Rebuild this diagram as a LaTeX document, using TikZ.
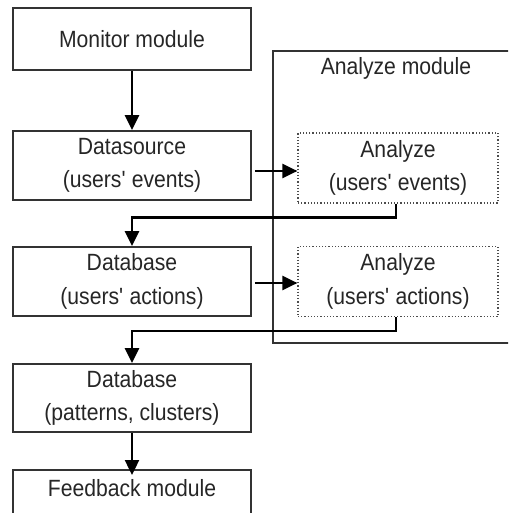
\documentclass[tikz,border=0pt]{standalone}
\usepackage{fontspec}
\setmainfont{Liberation Sans}[FakeStretch=0.9]
\usetikzlibrary{arrows.meta,calc}
\newcommand{\apos}{\textquotesingle}

\begin{document}
\begin{tikzpicture}[x=1pt,y=-1pt,
  every node/.style={font=\fontsize{23.5}{33.5}\selectfont, text=black!85, align=center, inner sep=0pt},
  stepbox/.style={draw=black!80, line width=1.8pt, minimum width=238pt},
  subbox/.style={draw=black!70, line width=1.2pt, dotted, minimum width=200pt, minimum height=70pt},
  flow/.style={draw=black, line width=2.4pt, -{Triangle[length=15pt,width=14pt]}},
]
\useasboundingbox (0,0) rectangle (508,513);
\clip (0,0) rectangle (508,513);

% outer module frame (runs past the right edge)
\draw[black!80, line width=1.5pt] (273,51) rectangle (530,343);
\node (amlabel) at (396,68) {Analyze module};

% left column
\node[stepbox, minimum height=62pt] (mon) at (132,39) {Monitor module};
\node[stepbox, minimum height=69pt] (ds) at (132,165.5) {Datasource\\(users\apos{} events)};
\node[stepbox, minimum height=69pt] (db) at (132,281.5) {Database\\(users\apos{} actions)};
\node[stepbox, minimum height=68pt] (dbp) at (132,398) {Database\\(patterns, clusters)};
\node[stepbox, minimum height=70pt, anchor=north] (fb) at (132,469) {};
\node (fbtext) at (132,488) {Feedback module};

% analysis steps
\node[subbox] (ae) at (398,168) {Analyze\\(users\apos{} events)};
\node[subbox] (aa) at (398,281.5) {Analyze\\(users\apos{} actions)};

% connectors
\draw[flow] (mon.south) -- (ds.north);
\draw[flow, shorten <=3pt] (ds.east |- 0,171) -- (ae.west |- 0,171);
\draw[flow] ($(ae.south)+(-2,0)$) -- ++(0,14) -| (db.north);
\draw[flow, shorten <=3pt] (db.east |- 0,283) -- (aa.west |- 0,283);
\draw[flow] ($(aa.south)+(-2,0)$) -- ++(0,14) -| (dbp.north);
\draw[flow, shorten >=-6pt] (dbp.south) -- (fb.north);
\end{tikzpicture}
\end{document}
